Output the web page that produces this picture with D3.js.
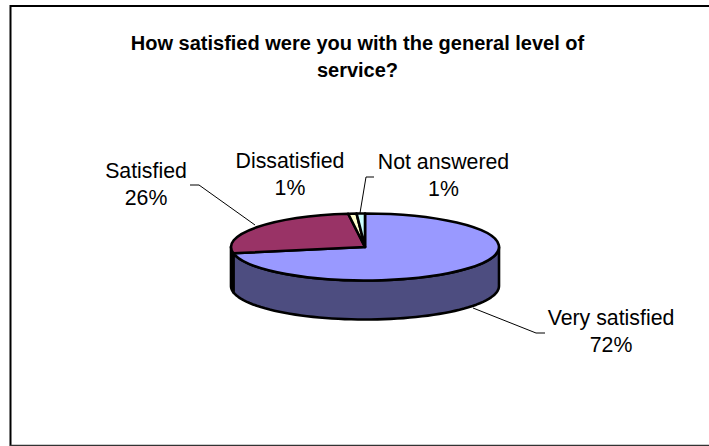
<!DOCTYPE html>
<html><head><meta charset="utf-8">
<style>html,body{margin:0;padding:0;background:#fff}svg{display:block}text{font-family:"Liberation Sans",Arial,sans-serif;fill:#000}</style>
<script src="https://cdn.jsdelivr.net/npm/d3@7/dist/d3.min.js"></script></head>
<body><script>
const categories = ["Very satisfied", "Satisfied", "Dissatisfied", "Not answered"];
const values = [72, 26, 1, 1];
const percentLabels = ["72%", "26%", "1%", "1%"];
const topColors = ["#9999ff", "#993366", "#ffffcc", "#ccffff"];
const sideColors = ["#4d4d80", "#4d1a33", "#808066", "#668080"];
const titleLines = ["How satisfied were you with the general level of", "service?"];
const W = 709, H = 446;
const cx = 365, cy = 247, rx = 134, ry = 33.5, depth = 39;
const svg = d3.select("body").append("svg").attr("width", W).attr("height", H);
svg.append("path").attr("d", `M10.5,446V6H709`).attr("fill", "none").attr("stroke", "#000").attr("stroke-width", 2);
svg.append("path").attr("d", `M10,445.5H709`).attr("stroke", "#333").attr("stroke-width", 1.6);
titleLines.forEach((t, i) => svg.append("text").attr("x", 357.5).attr("y", 49.5 + i * 27).attr("text-anchor", "middle").attr("font-weight", "bold").attr("font-size", 20).text(t));
const pie = d3.pie().sort(null).startAngle(0).endAngle(2 * Math.PI);
const arcs = pie(values);
const px = d3.scaleLinear().domain([-1, 1]).range([cx - rx, cx + rx]);
const py = d3.scaleLinear().domain([-1, 1]).range([cy - ry, cy + ry]);
const ptx = a => px(Math.sin(a)), pty = a => py(-Math.cos(a));
// side walls
arcs.forEach((d, i) => {
  const a0 = Math.max(d.startAngle, Math.PI / 2), a1 = Math.min(d.endAngle, 3 * Math.PI / 2);
  if (a1 <= a0) return;
  const p = d3.path();
  p.moveTo(ptx(a0), pty(a0));
  p.lineTo(ptx(a0), pty(a0) + depth);
  const n = 60, s = d3.range(n + 1).map(k => a0 + (a1 - a0) * k / n);
  s.forEach(a => p.lineTo(ptx(a), pty(a) + depth));
  p.lineTo(ptx(a1), pty(a1));
  s.reverse().forEach(a => p.lineTo(ptx(a), pty(a)));
  p.closePath();
  svg.append("path").attr("d", p.toString()).attr("fill", sideColors[i]).attr("stroke", "#000").attr("stroke-width", 2.6).attr("stroke-linejoin", "round");
});
// top slices
const arcGen = d3.arc().innerRadius(0).outerRadius(rx);
svg.append("g").attr("transform", `translate(${cx},${cy}) scale(1,${ry / rx})`)
  .selectAll("path").data(arcs).join("path")
  .attr("d", arcGen).attr("fill", (d, i) => topColors[i])
  .attr("stroke", "#000").attr("stroke-width", 2.6).attr("stroke-linejoin", "round")
  .attr("vector-effect", "non-scaling-stroke");
// labels
const labelPos = [[611, 325], [146, 178], [290, 168], [443.5, 169]];
categories.forEach((c, i) => {
  const g = svg.append("text").attr("text-anchor", "middle").attr("font-size", 21.3);
  g.append("tspan").attr("x", labelPos[i][0]).attr("y", labelPos[i][1]).text(c);
  g.append("tspan").attr("x", labelPos[i][0]).attr("y", labelPos[i][1] + 27).text(percentLabels[i]);
});
// leaders
const leaders = [
  [[473, 308], [536, 333], [545, 333]],
  [[255, 225], [199, 185], [190, 185]],
  [[360, 213], [366, 177], [374, 177]]
];
leaders.forEach(l => svg.append("path").attr("d", d3.line()(l)).attr("stroke", "#000").attr("stroke-width", 1).attr("fill", "none"));
</script></body></html>
